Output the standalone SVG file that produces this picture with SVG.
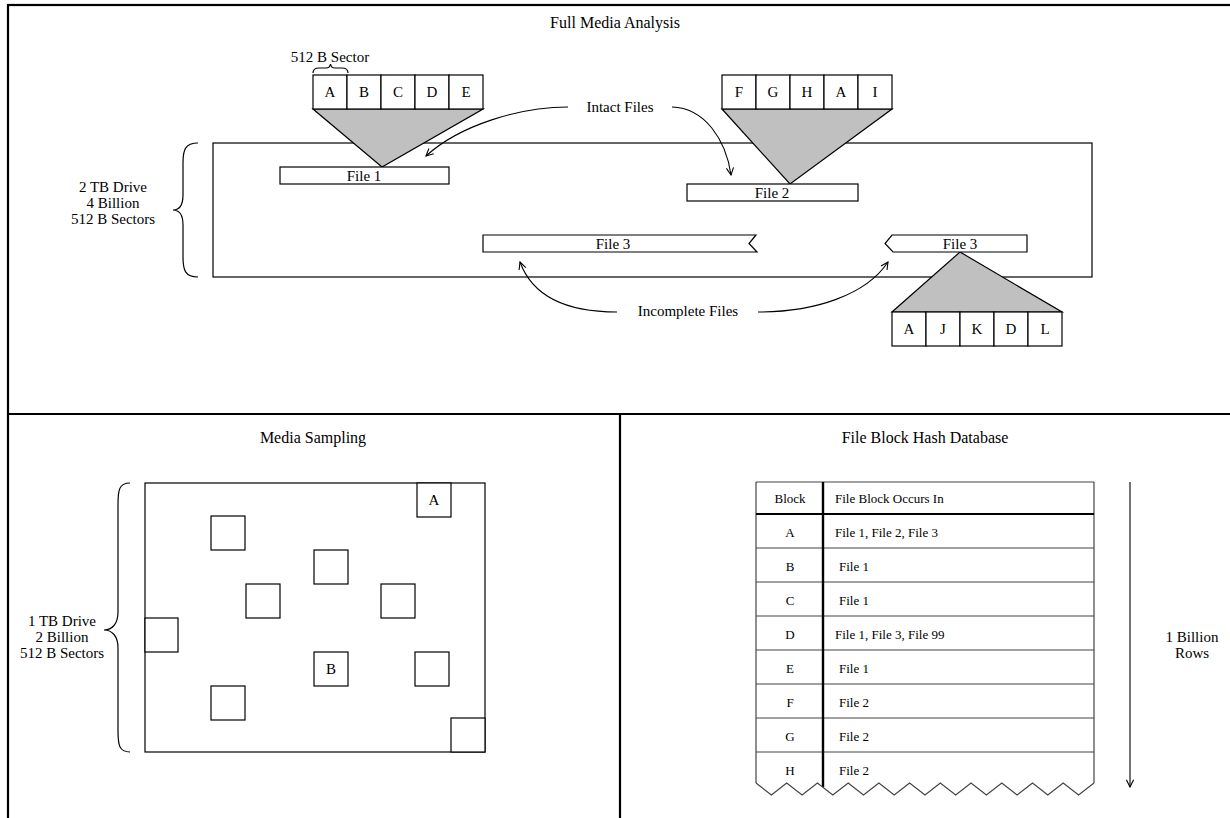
<svg xmlns="http://www.w3.org/2000/svg" width="1230" height="818" viewBox="0 0 1230 818">
<style>
text{font-family:"Liberation Serif","Times New Roman",serif;fill:#000}
.t{font-size:16px;text-anchor:middle}
.l{font-size:15px;text-anchor:middle}
.tb{font-size:13px}
.c{text-anchor:middle}
.ln{fill:none;stroke:#000;stroke-width:1.2}
.box{fill:#fff;stroke:#000;stroke-width:1.2}
.tri{fill:#c0c0c0;stroke:#000;stroke-width:1.2}
.cell{fill:#fff;stroke:#000;stroke-width:1.2}
.frame{fill:none;stroke:#000;stroke-width:2.2}
.tg{fill:none;stroke:#444;stroke-width:1.2}
.arr{fill:none;stroke:#000;stroke-width:1.1;marker-end:url(#ah)}
</style>
<defs>
<marker id="ah" viewBox="0 0 10 10" refX="9" refY="5" markerWidth="9" markerHeight="9" markerUnits="userSpaceOnUse" orient="auto">
<path d="M1,1 L9,5 L1,9" fill="none" stroke="#000" stroke-width="1.2"/>
</marker>
</defs>
<rect width="1230" height="818" fill="#fff"/>
<g id="frame">
<rect class="frame" x="8" y="5" width="1240" height="830"/>
<line class="frame" x1="8" y1="414" x2="1230" y2="414"/>
<line class="frame" x1="620" y1="414" x2="620" y2="818"/>
</g>
<g id="full-media-analysis">
<text class="t" x="615" y="28">Full Media Analysis</text>
<g id="drive">
<rect class="ln" x="213" y="143" width="879" height="134"/>
<path class="ln" d="M198 143 C185 143 183 150 183 163 L183 195 C183 205 179 210 173 210 C179 210 183 215 183 225 L183 257 C183 270 185 277 198 277"/>
<text class="l" x="113" y="192">2 TB Drive</text>
<text class="l" x="113" y="208">4 Billion</text>
<text class="l" x="113" y="224">512 B Sectors</text>
</g>
<g id="sectors1">
<polygon class="tri" points="313,109 483,109 382,167"/>
<rect class="cell" x="313" y="75" width="34" height="34"/>
<rect class="cell" x="347" y="75" width="34" height="34"/>
<rect class="cell" x="381" y="75" width="34" height="34"/>
<rect class="cell" x="415" y="75" width="34" height="34"/>
<rect class="cell" x="449" y="75" width="34" height="34"/>
<text class="l" x="330" y="97">A</text>
<text class="l" x="364" y="97">B</text>
<text class="l" x="398" y="97">C</text>
<text class="l" x="432" y="97">D</text>
<text class="l" x="466" y="97">E</text>
<text class="l" x="330" y="62">512 B Sector</text>
<path class="ln" d="M313 73 C313 69 315 68 319 68 L326 68 C329 68 330 67 330.5 64 C331 67 332 68 335 68 L342 68 C346 68 348 69 348 73"/>
</g>
<g id="file1">
<rect class="box" x="280" y="167" width="169" height="17"/>
<text class="l" x="364" y="181">File 1</text>
</g>
<g id="sectors2">
<polygon class="tri" points="722,109 892,109 790,184"/>
<rect class="cell" x="722" y="75" width="34" height="34"/>
<rect class="cell" x="756" y="75" width="34" height="34"/>
<rect class="cell" x="790" y="75" width="34" height="34"/>
<rect class="cell" x="824" y="75" width="34" height="34"/>
<rect class="cell" x="858" y="75" width="34" height="34"/>
<text class="l" x="739" y="97">F</text>
<text class="l" x="773" y="97">G</text>
<text class="l" x="807" y="97">H</text>
<text class="l" x="841" y="97">A</text>
<text class="l" x="875" y="97">I</text>
</g>
<g id="file2">
<rect class="box" x="687" y="184" width="171" height="17"/>
<text class="l" x="772" y="198">File 2</text>
</g>
<g id="file3a">
<path class="box" d="M483 235 L756 235 L749 243.5 L757 252 L483 252 Z"/>
<text class="l" x="613" y="249">File 3</text>
</g>
<g id="sectors3">
<polygon class="tri" points="892,312 1062,312 960,252"/>
<rect class="cell" x="892" y="312" width="34" height="34"/>
<rect class="cell" x="926" y="312" width="34" height="34"/>
<rect class="cell" x="960" y="312" width="34" height="34"/>
<rect class="cell" x="994" y="312" width="34" height="34"/>
<rect class="cell" x="1028" y="312" width="34" height="34"/>
<text class="l" x="909" y="334">A</text>
<text class="l" x="943" y="334">J</text>
<text class="l" x="977" y="334">K</text>
<text class="l" x="1011" y="334">D</text>
<text class="l" x="1045" y="334">L</text>
</g>
<g id="file3b">
<path class="box" d="M892 235 L1027 235 L1027 252 L893 252 L885 243.5 Z"/>
<text class="l" x="960" y="249">File 3</text>
</g>
<g id="label-intact">
<text class="l" x="620" y="112">Intact Files</text>
</g>
<g id="label-incomplete">
<text class="l" x="688" y="316">Incomplete Files</text>
</g>
</g>
<g id="connectors">
<path class="arr" d="M568 107 C520 107 460 125 426 156"/>
<path class="arr" d="M672 107 C705 108 726 140 731 175"/>
<path class="arr" d="M617 312 C565 312 532 295 520 262"/>
<path class="arr" d="M758 312 C815 312 866 295 888 262"/>
<path class="arr" d="M1130 482 L1130 787"/>
</g>
<g id="media-sampling">
<text class="t" x="313" y="443">Media Sampling</text>
<rect class="ln" x="145" y="483" width="340" height="269"/>
<path class="ln" d="M130 483 C119 483 118 490 118 505 L118 612 C118 624 112 630 104 630 C112 630 118 636 118 648 L118 730 C118 745 119 752 130 752"/>
<text class="l" x="62" y="626">1 TB Drive</text>
<text class="l" x="62" y="642">2 Billion</text>
<text class="l" x="62" y="658">512 B Sectors</text>
<rect class="cell" x="417" y="483" width="34" height="34"/>
<text class="l" x="434" y="505">A</text>
<rect class="cell" x="211" y="516" width="34" height="34"/>
<rect class="cell" x="314" y="550" width="34" height="34"/>
<rect class="cell" x="246" y="584" width="34" height="34"/>
<rect class="cell" x="381" y="584" width="34" height="34"/>
<rect class="cell" x="145" y="618" width="33" height="34"/>
<rect class="cell" x="314" y="652" width="34" height="34"/>
<text class="l" x="331" y="674">B</text>
<rect class="cell" x="415" y="652" width="34" height="34"/>
<rect class="cell" x="211" y="686" width="34" height="34"/>
<rect class="cell" x="451" y="718" width="34" height="34"/>
</g>
<g id="hash-db">
<text class="t" x="925" y="443">File Block Hash Database</text>
<line class="tg" x1="756" y1="482" x2="1094" y2="482"/>
<line class="tg" x1="756" y1="482" x2="756" y2="783"/>
<line class="tg" x1="1094" y1="482" x2="1094" y2="783"/>
<line x1="756" y1="514" x2="1094" y2="514" stroke="#000" stroke-width="2.2"/>
<line class="tg" x1="756" y1="548" x2="1094" y2="548"/>
<line class="tg" x1="756" y1="582" x2="1094" y2="582"/>
<line class="tg" x1="756" y1="616" x2="1094" y2="616"/>
<line class="tg" x1="756" y1="650" x2="1094" y2="650"/>
<line class="tg" x1="756" y1="684" x2="1094" y2="684"/>
<line class="tg" x1="756" y1="718" x2="1094" y2="718"/>
<line class="tg" x1="756" y1="752" x2="1094" y2="752"/>
<line x1="823" y1="482" x2="823" y2="787" stroke="#000" stroke-width="2.4"/>
<polyline class="tg" points="756,783 771.4,795 786.7,783 802.1,795 817.4,783 832.8,795 848.2,783 863.5,795 878.9,783 894.2,795 909.6,783 925,795 940.3,783 955.7,795 971,783 986.4,795 1001.8,783 1017.1,795 1032.5,783 1047.8,795 1063.2,783 1078.6,795 1094,783"/>
<text class="tb c" x="790" y="503">Block</text>
<text class="tb" x="835" y="503">File Block Occurs In</text>
<text class="tb c" x="790" y="537">A</text>
<text class="tb" x="835" y="537">File 1, File 2, File 3</text>
<text class="tb c" x="790" y="571">B</text>
<text class="tb" x="839" y="571">File 1</text>
<text class="tb c" x="790" y="605">C</text>
<text class="tb" x="839" y="605">File 1</text>
<text class="tb c" x="790" y="639">D</text>
<text class="tb" x="835" y="639">File 1, File 3, File 99</text>
<text class="tb c" x="790" y="673">E</text>
<text class="tb" x="839" y="673">File 1</text>
<text class="tb c" x="790" y="707">F</text>
<text class="tb" x="839" y="707">File 2</text>
<text class="tb c" x="790" y="741">G</text>
<text class="tb" x="839" y="741">File 2</text>
<text class="tb c" x="790" y="775">H</text>
<text class="tb" x="839" y="775">File 2</text>
<text class="l" x="1192" y="642">1 Billion</text>
<text class="l" x="1192" y="658">Rows</text>
</g>
</svg>
